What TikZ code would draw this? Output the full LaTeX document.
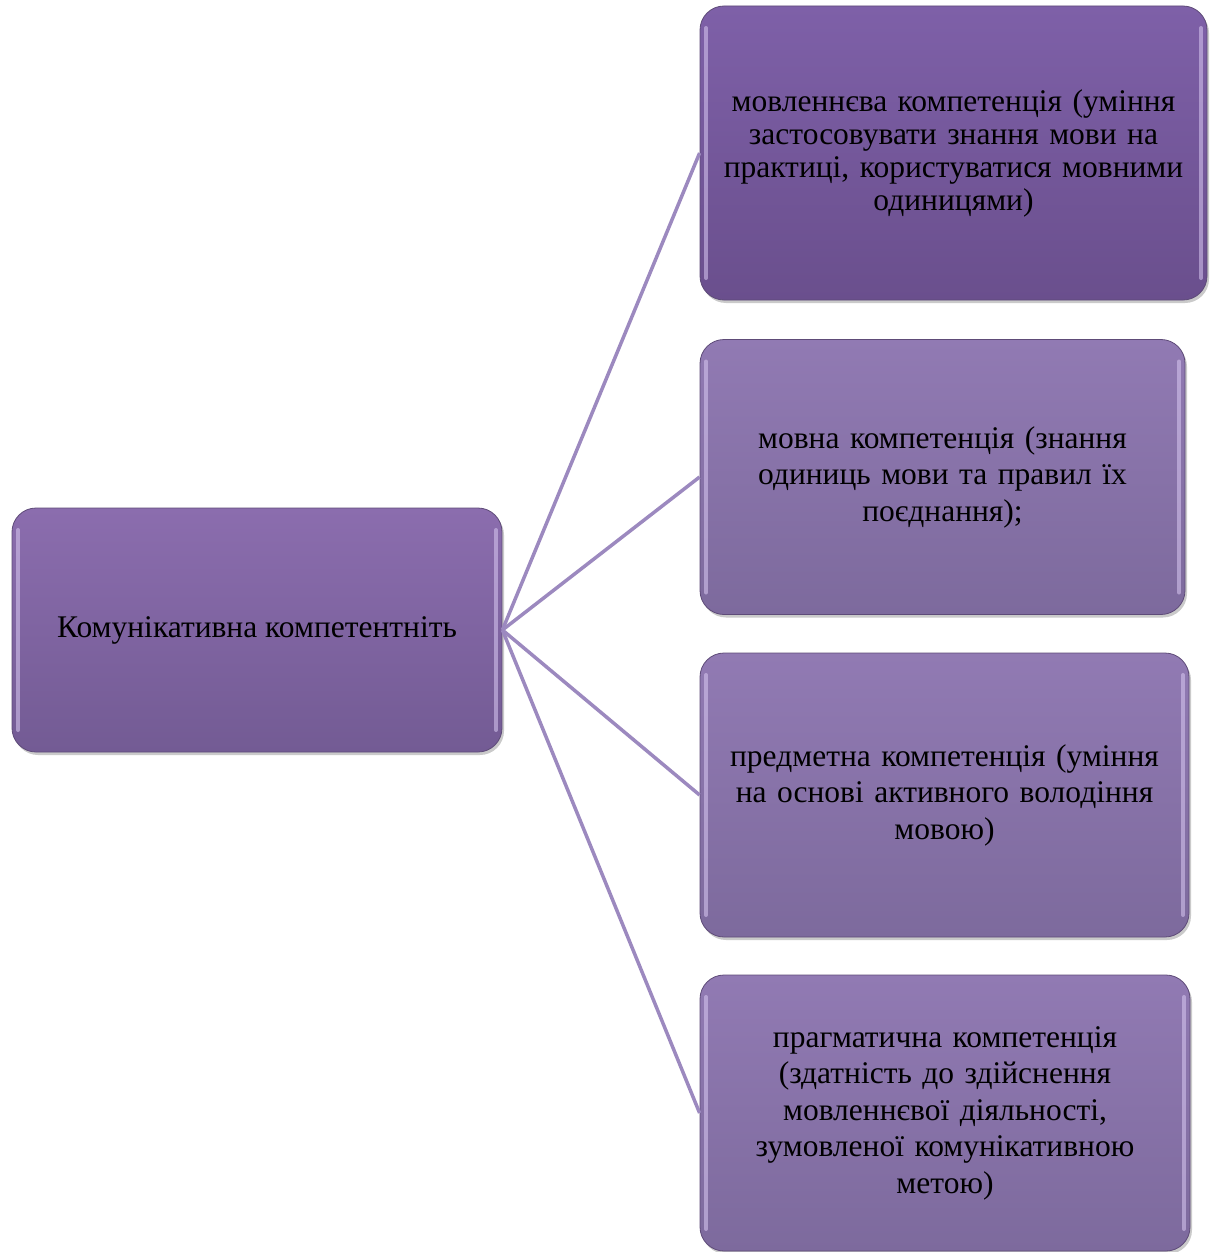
\documentclass[tikz,border=0pt]{standalone}
\usepackage{fontspec}
\setmainfont{Liberation Serif}
\usetikzlibrary{shadows}
\definecolor{linec}{HTML}{9C89BF}
\definecolor{topA}{HTML}{7E60A8}
\definecolor{botA}{HTML}{6A4F8D}
\definecolor{topB}{HTML}{917AB3}
\definecolor{botB}{HTML}{7D6A9D}
\definecolor{topL}{HTML}{8B6DAE}
\definecolor{botL}{HTML}{735B94}
\definecolor{edgec}{HTML}{5E4B78}
\definecolor{glow}{HTML}{D9C9F2}
\tikzset{
  pbox/.style={rounded corners=24pt, draw=edgec, line width=0.8pt,
    drop shadow={shadow xshift=2pt, shadow yshift=-3pt, opacity=0.35, fill=black!60},
    align=center, text=black, inner sep=4pt,
    path picture={
      \draw[glow, line width=4pt, opacity=0.55, line cap=round]
        ([xshift=6pt,yshift=-22pt]path picture bounding box.north west) --
        ([xshift=6pt,yshift=22pt]path picture bounding box.south west);
      \draw[glow, line width=4pt, opacity=0.55, line cap=round]
        ([xshift=-6pt,yshift=-22pt]path picture bounding box.north east) --
        ([xshift=-6pt,yshift=22pt]path picture bounding box.south east);
    }},
  boxA/.style={pbox, top color=topA, bottom color=botA},
  boxB/.style={pbox, top color=topB, bottom color=botB},
  boxL/.style={pbox, top color=topL, bottom color=botL},
  conn/.style={draw=linec, line width=3.5pt},
  bigtxt/.style={font=\fontsize{31.5}{36.5}\selectfont},
  smalltxt/.style={font=\fontsize{31.5}{33}\selectfont}
}
\begin{document}
\begin{tikzpicture}[x=1pt,y=-1pt]
\useasboundingbox (0,0) rectangle (1216,1252);
\node[boxL, bigtxt, minimum width=490pt, minimum height=244pt] (L) at (257,630)
  {Комунікативна компетентніть};
\node[boxA, smalltxt, minimum width=507pt, minimum height=294pt, text width=490pt] (A) at (953.5,153)
  {мовленнєва компетенція (уміння\\ застосовувати знання мови на\\ практиці, користуватися мовними\\ одиницями)};
\node[boxB, bigtxt, minimum width=485pt, minimum height=275pt, text width=470pt] (B) at (942.5,477)
  {мовна компетенція (знання\\ одиниць мови та правил їх\\ поєднання);};
\node[boxB, bigtxt, minimum width=489pt, minimum height=284pt, text width=470pt] (C) at (944.5,795)
  {предметна компетенція (уміння\\ на основі активного володіння\\ мовою)};
\node[boxB, bigtxt, minimum width=490pt, minimum height=276pt, text width=470pt] (D) at (945,1113)
  {прагматична компетенція\\ (здатність до здійснення\\ мовленнєвої діяльності,\\ зумовленої комунікативною\\ метою)};
\draw[conn] (L.east) -- (A.west);
\draw[conn] (L.east) -- (B.west);
\draw[conn] (L.east) -- (C.west);
\draw[conn] (L.east) -- (D.west);
\end{tikzpicture}
\end{document}
